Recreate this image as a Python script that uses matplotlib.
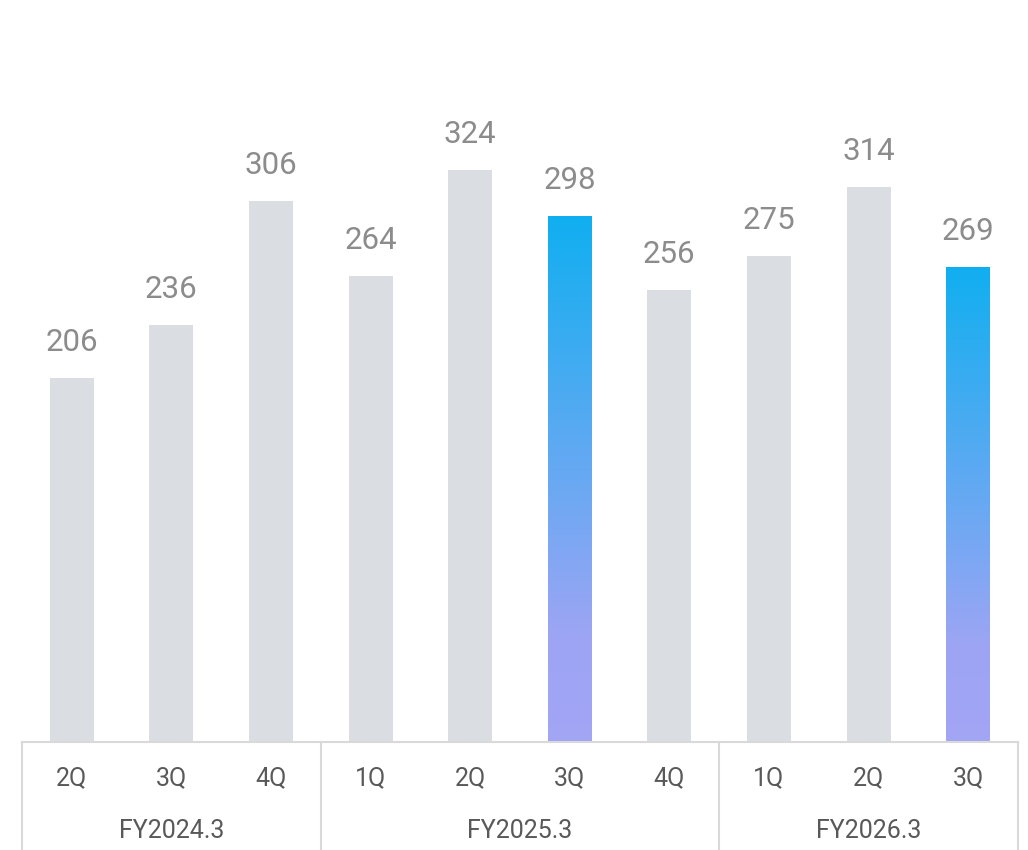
import matplotlib
matplotlib.use("Agg")
import matplotlib.pyplot as plt
import matplotlib.transforms as mtransforms
from matplotlib.colors import LinearSegmentedColormap
import numpy as np

quarters = ["2Q", "3Q", "4Q", "1Q", "2Q", "3Q", "4Q", "1Q", "2Q", "3Q"]
values = [206, 236, 306, 264, 324, 298, 256, 275, 314, 269]
highlight = [False, False, False, False, False, True, False, False, False, True]
fiscal_years = ["FY2024.3", "FY2025.3", "FY2026.3"]
year_sizes = [3, 4, 3]

GRAY_BAR = "#DADDE1"
LINE = "#D9D9D9"
VALUE_TXT = "#8C8C8C"
AXIS_TXT = "#595959"
grad = LinearSegmentedColormap.from_list(
    "grad", [(0.0, "#A3A4F5"), (0.2, "#9DA5F4"), (1.0, "#10AFF0")])

plt.rcParams["font.family"] = ["Roboto", "DejaVu Sans"]

fig = plt.figure(figsize=(10.28, 8.5), dpi=100)
ax = fig.add_axes([22 / 1028, 108 / 850, 996 / 1028, 742 / 850])
ax.set_xlim(-0.5, len(values) - 0.5)
ax.set_ylim(0, 420)
ax.axis("off")

x = np.arange(len(values))
width = 0.44
bars = ax.bar(x, values, width=width, color=GRAY_BAR, linewidth=0)

# gradient fill for the highlighted quarters
for bar, hl in zip(bars, highlight):
    if not hl:
        continue
    bar.set_facecolor("none")
    x0, w, h = bar.get_x(), bar.get_width(), bar.get_height()
    g = np.linspace(0, 1, 256).reshape(-1, 1)
    im = ax.imshow(g, cmap=grad, origin="lower", aspect="auto",
                   extent=(x0, x0 + w, 0, h), zorder=2)
    im.set_clip_path(bar)

for xi, v in zip(x, values):
    ax.annotate(str(v), xy=(xi, v), xytext=(0, 21), textcoords="offset pixels",
                ha="center", va="bottom", fontsize=22.5, color=VALUE_TXT)

# category axis
ax.plot([-0.5, len(values) - 0.5], [0, 0], color=LINE, lw=1.5, clip_on=False, zorder=3)
for xi, q in zip(x, quarters):
    ax.annotate(q, xy=(xi, 0), xytext=(0, -36), textcoords="offset pixels",
                ha="center", va="center", fontsize=18, color=AXIS_TXT)

trans = mtransforms.blended_transform_factory(ax.transData, fig.transFigure)
edges = np.concatenate([[0], np.cumsum(year_sizes)]) - 0.5
for e in edges:
    ax.plot([e, e], [0, 108 / 850], color=LINE, lw=1.5, transform=trans, clip_on=False)
for lo, hi, fy in zip(edges[:-1], edges[1:], fiscal_years):
    ax.annotate(fy, xy=((lo + hi) / 2, 0), xytext=(0, -89), textcoords="offset pixels",
                ha="center", va="center", fontsize=18, color=AXIS_TXT)

fig.savefig("out.png", dpi=100)
